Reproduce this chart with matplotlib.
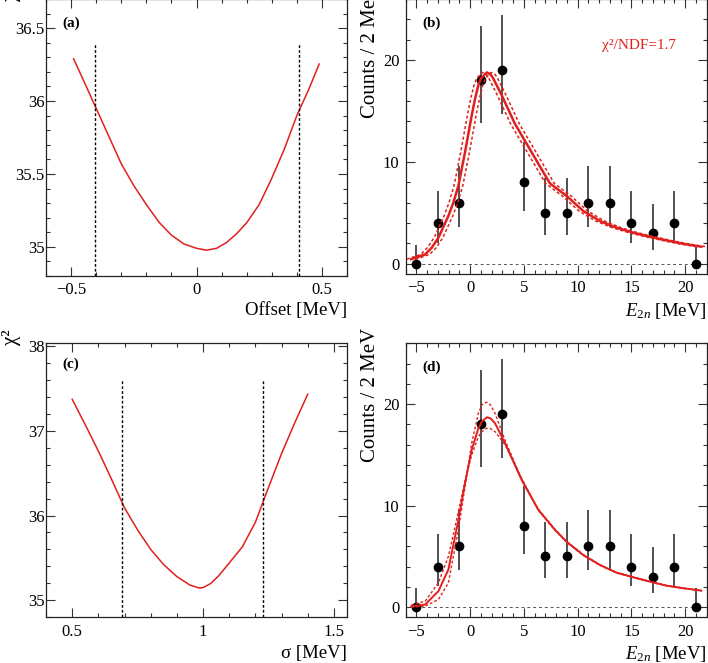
import matplotlib.pyplot as plt
import numpy as np
from matplotlib.ticker import FuncFormatter, MultipleLocator

plt.rcParams["font.family"] = ["Liberation Serif", "DejaVu Serif"]
plt.rcParams["mathtext.fontset"] = "custom"
plt.rcParams["mathtext.rm"] = "Liberation Serif"
plt.rcParams["mathtext.it"] = "Liberation Serif:italic"
plt.rcParams["mathtext.bf"] = "Liberation Serif:bold"

RED = "#e0201f"

# (a) chi2 scan vs energy offset
offset = [-0.49, -0.45, -0.40, -0.35, -0.30, -0.25, -0.20, -0.15, -0.10, -0.05, 0.0,
          0.04, 0.08, 0.12, 0.16, 0.20, 0.25, 0.30, 0.35, 0.40, 0.45, 0.489]
chi2_offset = [36.29, 36.14, 35.95, 35.76, 35.57, 35.42, 35.29, 35.17, 35.08, 35.02, 34.99,
               34.977, 34.99, 35.03, 35.09, 35.165, 35.29, 35.47, 35.67, 35.90, 36.09, 36.254]
offset_limits = [-0.405, 0.41]
offset_limit_top = 36.39

# (c) chi2 scan vs resolution sigma
sigma = [0.50, 0.55, 0.60, 0.65, 0.70, 0.75, 0.80, 0.85, 0.90, 0.95, 0.985, 1.00, 1.03,
         1.06, 1.10, 1.15, 1.20, 1.25, 1.30, 1.35, 1.40]
chi2_sigma = [37.37, 37.07, 36.76, 36.43, 36.09, 35.83, 35.60, 35.42, 35.28, 35.18, 35.145,
              35.15, 35.20, 35.29, 35.44, 35.63, 35.92, 36.33, 36.73, 37.09, 37.43]
sigma_limits = [0.691, 1.230]
sigma_limit_top = 37.6

# (b), (d) measured spectrum, Poisson 68% intervals
e2n = [-5, -3, -1, 1, 3, 5, 7, 9, 11, 13, 15, 17, 19, 21]
counts = [0, 4, 6, 18, 19, 8, 5, 5, 6, 6, 4, 3, 4, 0]
counts_lo = [0, 2.09, 3.62, 13.85, 14.74, 5.23, 2.84, 2.84, 3.62, 3.62, 2.09, 1.37, 2.09, 0]
counts_hi = [1.84, 7.16, 9.58, 23.36, 24.44, 11.94, 8.38, 8.38, 9.58, 9.58, 7.16, 5.92, 7.16, 1.84]

# (b) best fit, dotted curves = fit shifted by the offset limits of (a)
fit_b_x = [-5.5, -4.19, -3.58, -2.96, -2.03, -1.57, -1.10, -0.48, 0.14, 0.45, 0.76, 1.0,
           1.54, 1.9, 2.15, 2.93, 4.16, 5.71, 7.41, 8.96, 10.51, 12.06, 13.61, 15.15,
           16.70, 18.25, 19.79, 21.5]
fit_b_y = [0.45, 0.92, 1.58, 2.56, 4.70, 6.0, 7.66, 10.96, 14.57, 16.2, 17.53, 18.2,
           18.79, 18.6, 18.19, 16.55, 13.75, 10.96, 7.9, 6.67, 5.19, 4.21, 3.55, 3.06,
           2.66, 2.30, 1.97, 1.68]

# (d) best fit and the two sigma-limit curves
fit_d_x = [-5.5, -4.19, -2.96, -2.03, -1.10, -0.48, 0.14, 0.76, 1.1, 1.54, 1.9, 2.31,
           3.24, 4.78, 6.33, 7.88, 8.96, 10.51, 12.06, 13.61, 15.15, 16.70, 18.25, 19.79, 21.5]
fit_d_y = [0.05, 0.26, 1.57, 3.70, 8.6, 12.22, 15.50, 17.63, 18.3, 18.71, 18.6, 18.12,
           16.16, 12.55, 9.60, 7.63, 6.45, 5.14, 4.16, 3.40, 2.95, 2.52, 2.12, 1.87, 1.63]
narrow_d_y = [0.0, 0.1, 0.75, 2.39, 7.6, 11.9, 16.16, 19.1, 19.95, 20.2, 19.9, 19.1,
              16.45, 12.62, 9.66, 7.68, 6.5, 5.18, 4.19, 3.42, 2.97, 2.54, 2.14, 1.88, 1.64]
wide_d_y = [0.2, 0.59, 2.39, 5.0, 9.4, 12.5, 15.0, 16.8, 17.3, 17.63, 17.6, 17.3,
            16.0, 12.7, 9.55, 7.58, 6.41, 5.11, 4.13, 3.38, 2.93, 2.50, 2.11, 1.86, 1.62]

chi2_ndf = 1.7

W, H = 708, 663
fig = plt.figure(figsize=(W / 100, H / 100), dpi=100)


def add_axes(left, top, right, bottom):
    return fig.add_axes([left / W, 1 - bottom / H, (right - left) / W, (bottom - top) / H])


def fmt(v, _):
    return f"{v:g}".replace("-", "\u2212")


def style(ax, xmaj, xmin, ymaj, ymin, ypad):
    ax.xaxis.set_major_locator(MultipleLocator(xmaj))
    ax.xaxis.set_minor_locator(MultipleLocator(xmin))
    ax.yaxis.set_major_locator(MultipleLocator(ymaj))
    ax.yaxis.set_minor_locator(MultipleLocator(ymin))
    ax.xaxis.set_major_formatter(FuncFormatter(fmt))
    ax.yaxis.set_major_formatter(FuncFormatter(fmt))
    ax.tick_params(which="both", direction="in", top=True, right=True,
                   labelsize=12, color="#333333", width=0.8)
    ax.tick_params(axis="x", which="both", pad=4.5)
    ax.tick_params(axis="y", which="both", pad=ypad)
    ax.tick_params(which="major", length=6.5)
    ax.tick_params(which="minor", length=3.2)
    for s in ax.spines.values():
        s.set_linewidth(0.9)
        s.set_color("#222222")


ax_a = add_axes(46, -1, 347, 276)
ax_b = add_axes(405.7, -1, 706.7, 274)
ax_c = add_axes(46, 343.3, 347, 617.3)
ax_d = add_axes(405.7, 343.3, 706.7, 617.3)

# (a)
ax_a.plot(offset, chi2_offset, color=RED, lw=1.1)
ax_a.vlines(offset_limits, 34.8, offset_limit_top, colors="black", lw=1.0,
            linestyles=[(0, (2, 1.5))])
ax_a.set_xlim(-0.6, 0.6)
ax_a.set_ylim(34.8, 36.7)
style(ax_a, 0.5, 0.1, 0.5, 0.1, 1.2)
ax_a.set_xlabel("Offset [MeV]", fontsize=13.5, loc="right")
ax_a.xaxis.set_label_coords(1.0, -0.095)
ax_a.set_ylabel("χ²", fontsize=15, loc="top")
ax_a.yaxis.set_label_coords(-0.084, 1.05)
ax_a.text(0.053, 0.9, "(a)", transform=ax_a.transAxes, fontsize=11, fontweight="bold")

# (c)
ax_c.plot(sigma, chi2_sigma, color=RED, lw=1.1)
ax_c.vlines(sigma_limits, 34.8, sigma_limit_top, colors="black", lw=1.0,
            linestyles=[(0, (2, 1.5))])
ax_c.set_xlim(0.4, 1.55)
ax_c.set_ylim(34.8, 38.03)
style(ax_c, 0.5, 0.1, 1, 0.2, 1.2)
ax_c.set_xlabel("σ [MeV]", fontsize=13.5, loc="right")
ax_c.xaxis.set_label_coords(1.0, -0.1)
ax_c.set_ylabel("χ²", fontsize=15, loc="top")
ax_c.yaxis.set_label_coords(-0.084, 1.05)
ax_c.text(0.053, 0.91, "(c)", transform=ax_c.transAxes, fontsize=11, fontweight="bold")


def spectrum(ax, label):
    ax.hlines(0, e2n[0], fit_b_x[-1], colors="#555555", lw=0.7, linestyles=[(0, (3, 3))])
    yerr = [np.subtract(counts, counts_lo), np.subtract(counts_hi, counts)]
    ax.errorbar(e2n, counts, yerr=yerr, fmt="o", color="black", ecolor="#222222",
                ms=6, elinewidth=1.1, capsize=0, zorder=2)
    ax.set_xlim(-6, 22)
    ax.set_ylim(-1, 26)
    style(ax, 5, 1, 10, 2, 4.5)
    ax.set_xlabel("$E_{2n}$ [MeV]", fontsize=13.5, loc="right")
    ax.xaxis.set_label_coords(1.0, -0.097)
    ax.set_ylabel("Counts / 2 MeV", fontsize=15, loc="top")
    ax.yaxis.set_label_coords(-0.087, 1.055)
    ax.text(0.054, 0.9, label, transform=ax.transAxes, fontsize=11, fontweight="bold")


# (b)
spectrum(ax_b, "(b)")
ax_b.plot(fit_b_x, fit_b_y, color=RED, lw=1.8, zorder=3)
for shift in offset_limits:
    ax_b.plot(np.add(fit_b_x, shift), fit_b_y, color=RED, lw=1.1,
              ls=(0, (2, 1.5)), zorder=3)
ax_b.text(0.652, 0.82, f"χ²/NDF={chi2_ndf}", transform=ax_b.transAxes,
          fontsize=11, color=RED)

# (d)
spectrum(ax_d, "(d)")
ax_d.plot(fit_d_x, fit_d_y, color=RED, lw=1.4, zorder=3)
ax_d.plot(fit_d_x, narrow_d_y, color=RED, lw=1.0, ls=(0, (2, 1.5)), zorder=3)
ax_d.plot(fit_d_x, wide_d_y, color=RED, lw=1.0, ls=(0, (2, 1.5)), zorder=3)

fig.savefig("out.png", dpi=100)
